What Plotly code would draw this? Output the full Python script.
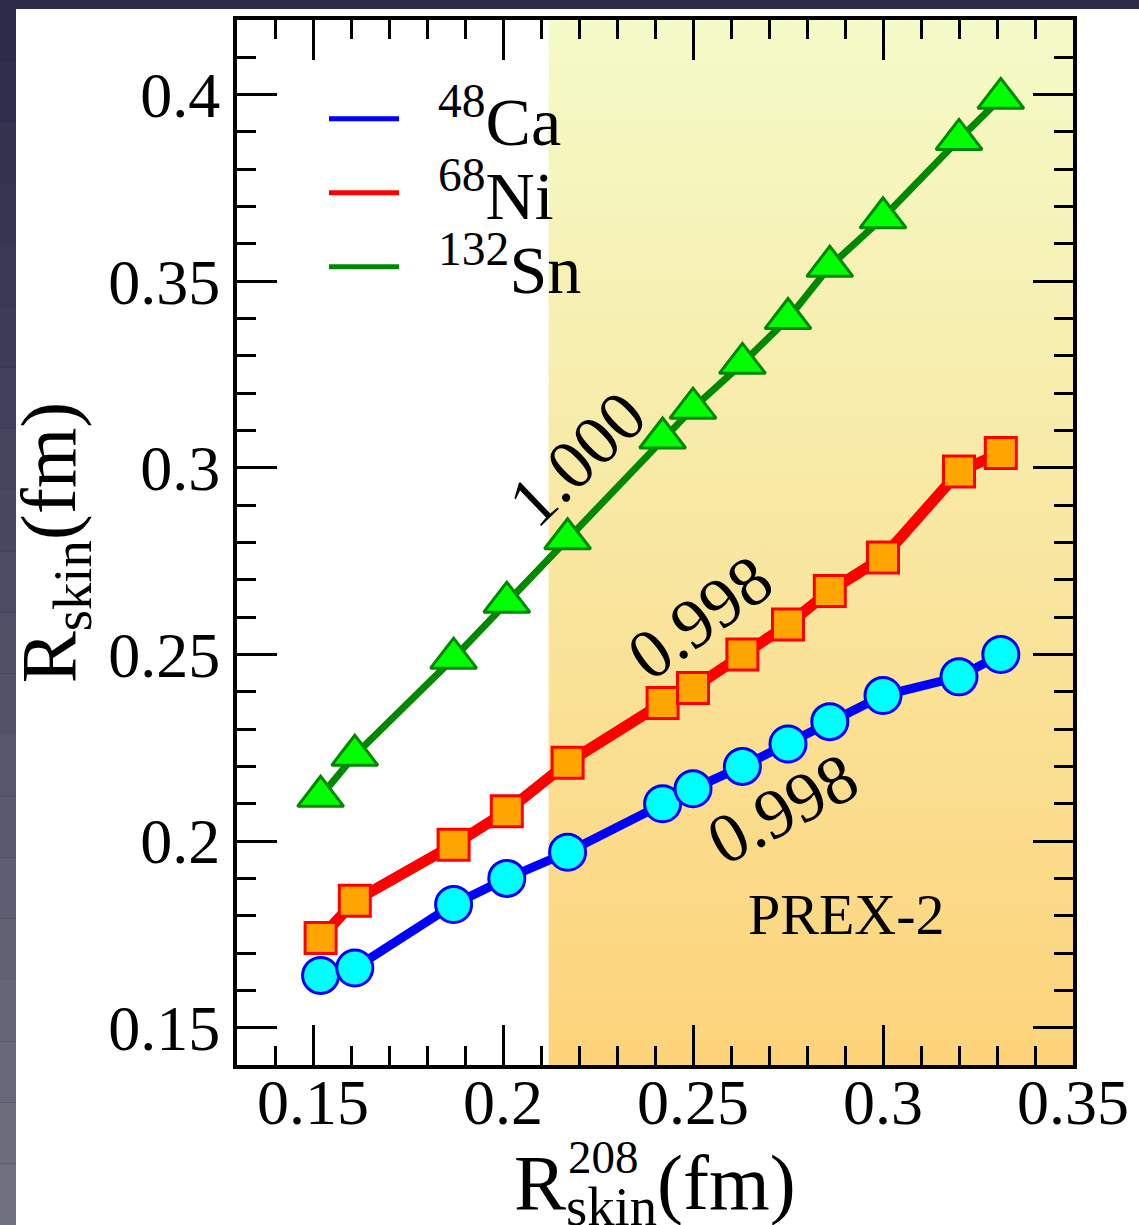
import plotly.graph_objects as go

# ---------------- data ----------------
r208 = [0.152, 0.161, 0.187, 0.201, 0.217, 0.242, 0.250, 0.263, 0.275, 0.286, 0.300, 0.320, 0.331]
ca48 = [0.164, 0.166, 0.183, 0.190, 0.197, 0.210, 0.214, 0.220, 0.226, 0.232, 0.239, 0.244, 0.250]
ni68 = [0.174, 0.184, 0.199, 0.208, 0.221, 0.237, 0.241, 0.250, 0.258, 0.267, 0.276, 0.299, 0.304]
sn132 = [0.212, 0.223, 0.249, 0.264, 0.281, 0.308, 0.316, 0.328, 0.340, 0.354, 0.367, 0.388, 0.399]

series_names = ["<sup>48</sup>Ca", "<sup>68</sup>Ni", "<sup>132</sup>Sn"]
corr_labels = ["0.998", "0.998", "1.000"]
corr_pos_x = [0.2737, 0.2518, 0.2195]
corr_pos_y = [0.2086, 0.2600, 0.3026]
corr_angles = [-28, -36, -44]

prex2_range = [0.212, 0.354]
prex2_label = "PREX-2"
prex2_label_pos = [0.2903, 0.1802]

x_range = [0.13, 0.35]
y_range = [0.14, 0.42]

x_title = "R<sub>skin</sub>(fm)"
x_title_sup = "208"
y_title = "R<sub>skin</sub>(fm)"

# ---------------- figure ----------------
W, H = 1139, 1225
ML, MR, MT, MB = 237, 66, 20, 160
PW, PH = W - ML - MR, H - MT - MB
FONT = "Liberation Serif, Times New Roman, serif"


def px_x(px):
    return (px - ML) / PW


def px_y(py):
    return (MT + PH - py) / PH


fig = go.Figure()

# PREX-2 shaded band with vertical gradient
fig.add_trace(go.Scatter(
    x=[prex2_range[0], prex2_range[1], prex2_range[1], prex2_range[0]],
    y=[y_range[0], y_range[0], y_range[1], y_range[1]],
    mode="none", fill="toself",
    fillgradient=dict(type="vertical",
                      colorscale=[[0, "#FDD37A"], [1, "#F4FBC8"]],
                      start=y_range[0], stop=y_range[1]),
    showlegend=False, hoverinfo="skip"))

styles = [
    dict(line="#0000FF", fill="#00FFFF", symbol="circle", size=36, lw=9, data=ca48),
    dict(line="#FF0000", fill="#FFA500", symbol="square", size=31, lw=11, data=ni68),
    dict(line="#008800", fill="#00FF00", symbol="triangle-up", size=40, lw=7, data=sn132),
]

for st in reversed(styles):
    fig.add_trace(go.Scatter(
        x=r208, y=st["data"], mode="lines+markers",
        line=dict(color=st["line"], width=st["lw"]),
        marker=dict(symbol=st["symbol"], size=st["size"], color=st["fill"],
                    line=dict(color=st["line"], width=3)),
        showlegend=False, hoverinfo="skip"))

# legend-only traces (lines only), one legend per row
legend_ids = ["legend", "legend2", "legend3"]
legend_rows_py = [119, 193, 267]
for name, st, lid in zip(series_names, styles, legend_ids):
    fig.add_trace(go.Scatter(
        x=[None], y=[None], mode="lines", name="&nbsp;&nbsp;" + name, legend=lid,
        line=dict(color=st["line"], width=5)))

legend_layout = {}
for lid, py in zip(legend_ids, legend_rows_py):
    legend_layout[lid] = dict(
        x=px_x(324), y=px_y(py), xanchor="left", yanchor="middle",
        bgcolor="rgba(0,0,0,0)", borderwidth=0,
        font=dict(family=FONT, size=68, color="black"),
        itemwidth=70)

# correlation annotations
for lab, xx, yy, ang in zip(corr_labels, corr_pos_x, corr_pos_y, corr_angles):
    fig.add_annotation(x=xx, y=yy, text=lab, textangle=ang, showarrow=False,
                       font=dict(family=FONT, size=70, color="black"),
                       xanchor="center", yanchor="middle")

fig.add_annotation(x=prex2_label_pos[0], y=prex2_label_pos[1], text=prex2_label,
                   showarrow=False, font=dict(family=FONT, size=58, color="black"),
                   xanchor="center", yanchor="middle")

# x-axis title (as paper annotation so it may run off the bottom edge like the original)
fig.add_annotation(xref="paper", yref="paper",
                   x=px_x(655), y=px_y(1137),
                   text=x_title, showarrow=False,
                   font=dict(family=FONT, size=78, color="black"),
                   xanchor="center", yanchor="top")
# superscript 208 of x-title (stacked over "skin")
fig.add_annotation(xref="paper", yref="paper",
                   x=px_x(603), y=px_y(1157),
                   text=x_title_sup, showarrow=False,
                   font=dict(family=FONT, size=47, color="black"),
                   xanchor="center", yanchor="middle")

# background: dark slide frame + white card
shapes = []
n_bands = 20
c0 = (44, 43, 74)
c1 = (112, 112, 128)
for i in range(n_bands):
    t = i / (n_bands - 1)
    col = "rgb(%d,%d,%d)" % tuple(int(a + (b - a) * t) for a, b in zip(c0, c1))
    py0 = H * i / n_bands
    py1 = H * (i + 1) / n_bands
    shapes.append(dict(type="rect", xref="paper", yref="paper", layer="below",
                       x0=px_x(0), x1=px_x(16), y0=px_y(py1), y1=px_y(py0),
                       fillcolor=col, line=dict(width=0)))
shapes.append(dict(type="rect", xref="paper", yref="paper", layer="below",
                   x0=px_x(16), x1=px_x(W), y0=px_y(H), y1=px_y(9),
                   fillcolor="white", line=dict(width=0)))

axis_common = dict(
    showline=True, linewidth=4, linecolor="black", mirror="allticks",
    ticks="inside", ticklen=40, tickwidth=3, tickcolor="black",
    tickfont=dict(family=FONT, size=64, color="black"),
    showgrid=False, zeroline=False,
    minor=dict(ticks="inside", ticklen=19, tickwidth=3, tickcolor="black",
               dtick=0.01, tick0=0, showgrid=False),
)

fig.update_layout(
    width=W, height=H,
    margin=dict(l=ML, r=MR, t=MT, b=MB, autoexpand=False),
    paper_bgcolor="rgb(44,43,74)",
    plot_bgcolor="rgba(0,0,0,0)",
    shapes=shapes,
    showlegend=True,
    xaxis=dict(range=[x_range[0], x_range[1] + 1e-6], tick0=0.15, dtick=0.05,
               ticklabelstandoff=-22,
               **axis_common),
    yaxis=dict(range=[y_range[0], y_range[1]], tick0=0.15, dtick=0.05,
               title=dict(text=y_title, standoff=8,
                          font=dict(family=FONT, size=78, color="black")),
               **axis_common),
    **legend_layout,
)

fig.write_html(
    "out.html",
    config={"displayModeBar": False},
    post_script="document.body.style.margin='0';"
                "document.body.style.background='rgb(44,43,74)';",
)
